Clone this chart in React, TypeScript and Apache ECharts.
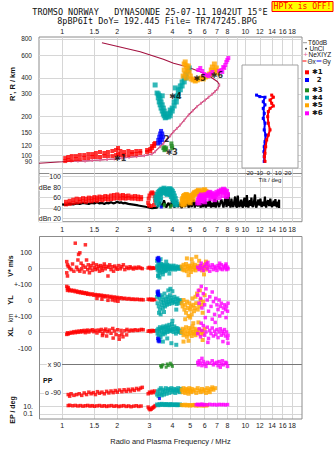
import React, { useEffect, useRef } from 'react';
import * as echarts from 'echarts';

// ---------- axis constants ----------
const F_MIN = 0.748;
const F_MAX = 20.4;
const FREQ_GRID = [1, 1.5, 2, 3, 4, 5, 6, 7, 8, 9, 10, 12, 14, 16, 18];
const FREQ_LABELS_TOP = [1, 1.5, 2, 3, 4, 5, 6, 7, 8, 10, 12, 14, 16, 18];
const FREQ_LABELS_MID = [1, 1.5, 2, 3, 4, 5, 6, 7, 8, 9, 10, 12, 14, 16, 18];
const R_TICKS = [80, 90, 100, 120, 150, 200, 300, 400, 600, 800];
const R_MIN = 72.5;
const R_MAX = 829;
const TILT_TICKS = [-20, -10, 0, 10, 20];
const DB_TICKS = [20, 40, 60, 80, 100];
const PP_TICKS = [90, -90];
const EP_TICKS = [10, 0.1];

// ---------- top panel: virtual height R (km) vs frequency (MHz) ----------
const PROFILE = [[0.748, 87], [1.0, 89.5], [1.11, 90.7], [1.336, 90.7], [1.61, 92.3], [1.93, 94], [2.32, 96.8], [2.81, 99.6], [3.09, 102.7], [3.22, 107], [3.43, 117], [3.73, 132], [4.06, 153], [4.41, 172], [4.9, 206], [5.44, 239], [6.04, 269], [6.58, 298], [7.06, 328], [7.23, 352], [7.06, 373], [6.44, 408], [5.67, 446], [4.8, 488], [4.06, 519], [3.57, 557], [2.67, 638], [1.65, 748]];
const NEXIYZ = [[1.12, 90.7], [1.22, 90.7], [1.336, 90.7], [1.46, 91.5], [1.61, 92.3], [1.76, 93], [1.93, 94], [2.12, 95.5], [2.32, 96.8], [2.55, 98], [2.81, 99.6], [3.09, 102.7], [3.22, 107], [3.43, 117], [3.58, 124], [3.73, 132], [3.9, 142], [4.06, 153], [4.23, 162], [4.41, 172], [4.65, 188], [4.9, 206], [5.16, 222], [5.44, 239], [5.73, 254], [6.04, 269], [6.3, 283], [6.58, 298], [6.82, 312], [7.06, 328], [7.23, 352]];
const R_RED = [[1.04, 95.5], [1.04, 90.5], [1.08, 97.3], [1.08, 92.2], [1.13, 99], [1.13, 92.2], [1.19, 99], [1.19, 93.8], [1.25, 100.8], [1.25, 93.8], [1.32, 100.8], [1.32, 95.5], [1.39, 102.6], [1.39, 95.5], [1.46, 102.6], [1.46, 97.3], [1.53, 104.5], [1.53, 97.3], [1.61, 106.4], [1.61, 97.3], [1.7, 104.5], [1.7, 99], [1.78, 106.4], [1.78, 99], [1.88, 108.3], [1.88, 99], [1.97, 110.3], [1.97, 100.8], [2.02, 114.3], [2.02, 102.6], [2.08, 108.3], [2.08, 100.8], [2.18, 106.4], [2.18, 100.8], [2.3, 108.3], [2.3, 100.8], [2.41, 106.4], [2.41, 102.6], [2.54, 108.3], [2.54, 102.6], [2.67, 108.3], [2.67, 104.5], [2.91, 110.3], [2.91, 106.4], [3.03, 112.3], [3.03, 108.3], [3.1, 118.5], [3.1, 114.3], [3.18, 122.8], [3.18, 118.5], [3.22, 125]];
const R_BLUE = [[3.47, 155], [3.43, 148], [3.52, 148], [3.39, 140], [3.47, 140], [3.56, 140], [3.35, 132], [3.43, 132], [3.52, 132], [3.43, 126], [3.35, 124]];
const R_GREEN = [[3.57, 114], [3.62, 116], [3.66, 112], [3.7, 114], [3.62, 110], [3.95, 124], [3.97, 118], [3.99, 114]];
const R_TEAL = [[3.3, 305], [3.35, 300], [3.39, 290], [3.35, 280], [3.43, 274], [3.39, 260], [3.47, 260], [3.43, 247], [3.52, 247], [3.47, 233], [3.57, 233], [3.52, 221], [3.61, 221], [3.57, 210], [3.66, 210], [3.61, 203], [3.7, 199], [3.66, 196], [3.8, 199], [3.89, 203], [3.8, 210], [3.89, 214], [3.89, 225], [3.99, 221], [3.99, 233], [4.09, 242], [4.09, 260], [4.2, 260], [4.2, 280], [4.25, 290], [4.31, 300], [4.31, 323], [4.42, 323], [4.42, 346], [4.52, 346], [4.52, 372], [4.64, 372], [4.64, 399], [4.76, 399], [4.76, 428], [4.88, 452], [4.94, 477], [3.22, 352], [3.52, 290], [4.15, 334]];
const R_ORANGE = [[4.64, 512], [4.7, 531], [4.76, 494], [4.64, 460], [4.7, 428], [4.82, 460], [4.88, 494], [4.94, 444], [5.01, 413], [5.07, 392], [5.2, 385], [5.33, 378], [5.47, 385], [5.61, 392], [5.75, 399], [5.9, 392], [6.05, 406], [6.2, 413], [6.36, 428], [6.52, 460], [6.61, 485], [6.69, 444], [6.78, 512], [6.86, 460], [6.95, 477], [7.04, 436], [4.76, 399], [4.58, 413]];
const R_MAGENTA = [[5.54, 460], [5.68, 477], [5.82, 452], [5.97, 428], [6.12, 421], [6.28, 413], [6.44, 428], [6.61, 444], [7.21, 452], [7.39, 460], [7.58, 485], [7.78, 503], [7.88, 531], [7.98, 550], [8.08, 570], [7.68, 477], [7.49, 444]];
const TRACE_TAGS = [[2.075, 95, '✱1'], [3.73, 132, '2'], [3.97, 105.6, '✱3'], [4.15, 286, '✱4'], [5.63, 396, '✱5'], [7.0, 415, '✱6']];

// ---------- tilt inset: tilt (deg) vs R ----------
const TILT_Y = [[-12.3, 294], [-8.9, 286], [-3.6, 283], [-5.4, 261], [-3.6, 247], [-5.4, 232], [-4.4, 212], [-5.4, 194], [-3.6, 178], [-4.4, 158], [-2.9, 144], [-3.6, 128], [-4.4, 117], [-4.7, 107], [-4.4, 98], [-4.4, 90]];
const TILT_X = [[3.3, 294], [5, 283], [1.6, 269], [3.3, 254], [5, 242], [1.6, 232], [-0.2, 219], [-0.8, 200], [-0.2, 178], [1.6, 158], [-0.2, 144], [-1.9, 132], [-2.9, 117], [-3.6, 104], [-4.2, 98], [-3.6, 90]];

// ---------- amplitude panel (dB) ----------
const DB_BLACK = [[1.0, 47], [1.05, 46], [1.1, 48], [1.15, 47], [1.2, 49], [1.25, 48], [1.3, 50], [1.35, 49], [1.4, 48], [1.45, 50], [1.5, 49], [1.55, 51], [1.6, 49], [1.65, 50], [1.7, 48], [1.75, 50], [1.8, 49], [1.85, 51], [1.9, 49], [1.95, 50], [2.0, 52], [2.05, 50], [2.1, 51], [2.15, 49], [2.2, 50], [2.3, 48], [2.4, 47], [2.5, 46], [2.6, 45], [2.7, 44], [2.8, 43], [2.9, 42], [3.0, 41], [3.1, 40], [3.3, 41], [3.4, 52], [3.5, 42], [3.6, 55], [3.7, 41], [3.8, 50], [3.9, 42], [4.0, 56], [4.1, 41], [4.2, 53], [4.3, 42], [4.4, 48], [4.5, 40], [4.6, 52], [4.7, 42], [4.8, 55], [4.9, 41], [5.0, 50], [5.1, 42], [5.2, 57], [5.3, 41], [5.4, 52], [5.5, 43], [5.6, 55], [5.7, 41], [5.8, 49], [5.9, 42], [6.0, 58], [6.1, 41], [6.2, 52], [6.3, 43], [6.4, 56], [6.5, 41], [6.6, 50], [6.7, 42], [6.8, 60], [6.9, 41], [7.0, 54], [7.2, 42], [7.4, 57], [7.6, 41], [7.8, 62], [7.9, 42], [8.0, 55], [8.1, 68], [8.15, 44], [8.2, 50], [8.3, 41], [8.4, 58], [8.5, 45], [8.6, 42], [8.7, 52], [8.8, 62], [8.9, 44], [9.0, 41], [9.1, 64], [9.2, 46], [9.3, 42], [9.4, 50], [9.5, 56], [9.6, 44], [9.7, 41], [9.8, 52], [9.9, 60], [10.0, 45], [10.1, 42], [10.2, 65], [10.3, 47], [10.4, 41], [10.5, 50], [10.6, 55], [10.7, 44], [10.8, 60], [10.9, 45], [11.0, 42], [11.15, 52], [11.3, 66], [11.4, 44], [11.5, 41], [11.65, 50], [11.8, 56], [11.95, 45], [12.1, 58], [12.2, 46], [12.3, 42], [12.4, 48], [12.5, 52], [12.65, 44], [12.8, 62], [12.9, 45], [13.0, 41], [13.15, 50], [13.3, 55], [13.5, 44], [13.7, 58], [13.85, 46], [14.0, 42], [14.15, 49], [14.3, 54], [14.45, 44], [14.6, 57], [14.75, 45], [14.9, 42], [15.0, 48], [15.1, 52], [15.2, 44], [15.3, 56], [15.3, 40]];
const DB_RED = [[1.05, 52], [1.05, 47], [1.1, 54], [1.1, 48], [1.15, 56], [1.15, 50], [1.2, 58], [1.2, 51], [1.25, 57], [1.25, 52], [1.3, 59], [1.3, 53], [1.35, 58], [1.35, 52], [1.4, 60], [1.4, 54], [1.45, 59], [1.45, 53], [1.5, 61], [1.5, 55], [1.55, 60], [1.55, 54], [1.6, 62], [1.6, 56], [1.66, 61], [1.66, 55], [1.72, 63], [1.72, 57], [1.78, 62], [1.78, 56], [1.85, 64], [1.85, 57], [1.92, 65], [1.92, 58], [2.0, 66], [2.0, 59], [2.08, 64], [2.08, 58], [2.15, 65], [2.15, 59], [2.22, 63], [2.22, 58], [2.3, 64], [2.3, 59], [2.4, 62], [2.4, 58], [2.5, 63], [2.5, 58], [2.6, 62], [2.6, 57], [2.7, 61], [2.7, 57], [2.95, 50], [2.97, 58], [3.0, 64], [3.05, 68], [3.1, 70], [3.16, 68], [3.2, 62], [3.22, 54], [3.18, 46], [3.05, 44], [2.98, 45]];
const DB_TEAL = [[3.25, 60], [3.28, 55], [3.3, 66], [3.3, 50], [3.35, 70], [3.35, 62], [3.38, 46], [3.4, 72], [3.4, 66], [3.45, 74], [3.45, 68], [3.45, 60], [3.5, 76], [3.5, 70], [3.55, 75], [3.55, 70], [3.6, 78], [3.6, 72], [3.65, 76], [3.65, 70], [3.7, 74], [3.7, 68], [3.75, 72], [3.75, 66], [3.8, 75], [3.8, 68], [3.85, 77], [3.85, 70], [3.9, 76], [3.9, 66], [3.95, 74], [3.95, 62], [4.0, 72], [4.0, 58], [4.05, 68], [4.05, 54], [4.1, 63], [4.1, 50], [4.15, 58], [4.15, 46], [4.2, 52], [4.25, 47], [3.32, 58], [3.42, 55]];
const DB_ORANGE = [[4.5, 48], [4.52, 54], [4.55, 58], [4.6, 62], [4.6, 50], [4.65, 64], [4.7, 63], [4.7, 54], [4.75, 66], [4.8, 65], [4.8, 56], [4.85, 62], [4.9, 64], [4.9, 52], [4.95, 60], [5.0, 58], [5.0, 50], [5.05, 62], [5.1, 60], [5.15, 64], [5.2, 66], [5.2, 56], [5.25, 68], [5.3, 70], [5.35, 66], [5.4, 70], [5.45, 72], [5.5, 68], [5.55, 74], [5.6, 72], [5.65, 70], [5.7, 68], [5.8, 70], [5.9, 74], [6.0, 75], [6.05, 70], [6.1, 72], [6.2, 66], [6.25, 70], [4.58, 46], [4.68, 48]];
const DB_MAGENTA = [[5.5, 50], [5.55, 55], [5.6, 58], [5.65, 62], [5.7, 60], [5.75, 65], [5.8, 63], [5.85, 58], [5.9, 56], [5.95, 62], [6.0, 60], [6.1, 66], [6.2, 64], [6.3, 68], [6.4, 70], [6.5, 66], [6.55, 62], [6.6, 68], [6.7, 64], [6.8, 62], [6.9, 66], [7.0, 70], [7.1, 68], [7.2, 72], [7.3, 70], [7.4, 74], [7.5, 72], [7.6, 76], [7.7, 74], [7.8, 70], [7.9, 72], [8.0, 66], [5.6, 50], [5.8, 54], [6.0, 52], [6.4, 58], [6.8, 56], [7.2, 60], [7.6, 64], [7.9, 62]];
const DB_GREEN = [[3.6, 44], [3.62, 47], [3.9, 42], [3.95, 45]];
const DB_BLUE = [[3.48, 42]];

// ---------- V* (m/s) ----------
const V_RED = [[1.06, 40], [1.07, 20], [1.06, -30], [1.07, -50], [1.08, 10], [1.1, 0], [1.12, -10], [1.14, 25], [1.16, -20], [1.18, 155], [1.2, 5], [1.22, 50], [1.22, -10], [1.23, 85], [1.25, 95], [1.25, -20], [1.27, 30], [1.28, -5], [1.3, 15], [1.32, -25], [1.34, 145], [1.34, 5], [1.36, 50], [1.38, -10], [1.39, 20], [1.41, -30], [1.42, 0], [1.44, 15], [1.46, -15], [1.48, 30], [1.5, 5], [1.52, -10], [1.54, 20], [1.56, -5], [1.58, 10], [1.6, -20], [1.62, 15], [1.64, 0], [1.66, -15], [1.68, 10], [1.7, 25], [1.72, -5], [1.75, 10], [1.78, -50], [1.8, 5], [1.82, 20], [1.85, -10], [1.88, 8], [1.91, -20], [1.94, 12], [1.97, 0], [2.0, -8], [2.04, 15], [2.08, -5], [2.12, 8], [2.16, 20], [2.2, -10], [2.25, 5], [2.3, -3], [2.35, 8], [2.4, 0], [2.45, -6], [2.5, 4], [2.56, -2], [2.62, 6], [2.68, 0], [2.74, -4], [2.95, 0], [3.0, 4], [3.05, -4], [3.1, 2], [3.15, -2], [3.2, 0]];
const V_TEAL = [[3.3, 10], [3.32, -10], [3.35, 20], [3.36, -20], [3.38, 0], [3.4, 30], [3.42, -30], [3.44, 10], [3.46, -15], [3.48, 25], [3.5, -5], [3.52, 15], [3.54, -25], [3.56, 5], [3.58, 20], [3.6, -10], [3.62, 10], [3.64, -20], [3.66, 0], [3.68, 15], [3.7, -15], [3.72, 5], [3.75, 20], [3.78, -10], [3.8, 10], [3.83, -5], [3.86, 15], [3.89, 0], [3.92, -10], [3.95, 10], [3.98, 5], [4.02, -5], [4.06, 15], [4.1, 0], [4.14, -10], [4.18, 10], [4.22, 0], [4.26, -5], [4.3, 8], [4.35, -2], [4.4, 5], [4.45, -5], [3.34, -50], [3.4, -60], [3.45, 55], [3.55, -40], [3.7, 40], [3.85, -35], [3.3, 45], [3.36, -45]];
const V_BLUE = [[3.33, 55], [3.36, 65], [3.38, 50], [3.35, 45], [3.31, 60]];
const V_ORANGE = [[4.5, 10], [4.55, -10], [4.6, 20], [4.65, -15], [4.7, 5], [4.75, 25], [4.8, -20], [4.85, 10], [4.9, -5], [4.95, 15], [5.0, 0], [5.05, -25], [5.1, 10], [5.15, 30], [5.2, -10], [5.25, 5], [5.3, 20], [5.35, -15], [5.4, 0], [5.5, 15], [5.6, -5], [5.7, 10], [5.8, -15], [5.9, 5], [6.0, 20], [6.1, -10], [6.2, 5], [4.8, 60], [5.1, 55], [5.4, 70], [4.9, -45], [5.6, 45], [5.95, -40], [6.1, 40]];
const V_MAGENTA = [[5.5, 5], [5.6, -10], [5.7, 15], [5.8, 0], [5.9, -15], [6.0, 10], [6.1, 25], [6.2, -5], [6.3, 15], [6.4, -20], [6.5, 5], [6.6, 20], [6.7, -10], [6.8, 10], [6.9, 0], [7.0, -15], [7.1, 15], [7.2, 5], [7.3, -5], [7.4, 20], [7.5, -10], [7.6, 10], [7.7, 0], [7.8, 15], [7.9, -10], [8.0, 5], [8.05, -5], [5.75, 30], [6.25, 35], [7.25, 30], [7.85, 25]];

// ---------- YL (km) ----------
const YL_RED = [[1.06, 85], [1.07, 72], [1.08, 78], [1.07, 60], [1.09, 66], [1.1, 58], [1.12, 62], [1.14, 56], [1.16, 60], [1.18, 52], [1.2, 56], [1.22, 48], [1.24, 52], [1.26, 45], [1.28, 50], [1.3, 42], [1.32, 46], [1.34, 40], [1.36, 44], [1.38, 36], [1.4, 40], [1.43, 34], [1.46, 38], [1.49, 30], [1.52, 34], [1.55, 28], [1.58, 32], [1.61, 26], [1.64, 30], [1.67, 22], [1.7, 27], [1.73, 20], [1.77, 25], [1.81, 18], [1.85, 22], [1.89, 15], [1.93, 19], [1.97, 12], [2.01, 16], [2.05, 10], [2.1, 14], [2.15, 8], [2.2, 11], [2.26, 6], [2.32, 9], [2.38, 4], [2.44, 6], [2.5, 3], [2.57, 5], [2.64, 2], [2.71, 3], [2.77, 1], [1.65, 5], [1.78, -2], [1.88, 0], [1.95, -5], [2.02, -8], [1.55, 10], [2.95, 5], [3.0, 2], [3.05, 6], [3.1, 0], [3.15, 4], [3.2, 2]];
const YL_TEAL = [[3.3, 20], [3.32, -20], [3.35, 40], [3.37, -40], [3.4, 10], [3.42, -60], [3.45, 30], [3.47, -10], [3.5, -30], [3.52, 20], [3.55, -50], [3.57, 0], [3.6, -20], [3.62, 40], [3.65, -40], [3.68, 10], [3.7, -10], [3.73, -30], [3.76, 20], [3.79, -15], [3.82, 5], [3.85, -25], [3.88, 30], [3.91, -5], [3.95, 15], [3.98, -20], [4.02, 0], [4.06, -10], [4.1, 20], [4.14, -15], [4.18, 5], [4.22, -25], [4.26, 10], [4.3, -5], [4.35, -20], [4.4, 0], [4.45, -10], [3.38, -80], [3.45, -90], [3.6, -75], [3.8, 60], [3.9, 70], [4.0, 55], [4.2, -60]];
const YL_BLUE = [[3.31, 50], [3.33, 40], [3.35, 55], [3.37, 30], [3.34, 35]];
const YL_ORANGE = [[4.5, -20], [4.55, -40], [4.6, 0], [4.65, -60], [4.7, -30], [4.75, -80], [4.8, -10], [4.85, -50], [4.9, -100], [4.95, -20], [5.0, -60], [5.05, -40], [5.1, -90], [5.15, 10], [5.2, -30], [5.25, -70], [5.3, -50], [5.35, 20], [5.4, -20], [5.5, -60], [5.6, -40], [5.7, 0], [5.8, -30], [5.9, -10], [6.0, 30], [4.7, -120], [5.0, -110], [5.45, 40], [5.65, 60], [5.85, -80]];
const YL_MAGENTA = [[5.5, 30], [5.55, 60], [5.6, -20], [5.7, 10], [5.8, -50], [5.9, 40], [6.0, -30], [6.1, 70], [6.2, 0], [6.3, -70], [6.4, 20], [6.5, -40], [6.6, 50], [6.7, -10], [6.8, -90], [6.9, 10], [7.0, -30], [7.1, -60], [7.2, 0], [7.3, -40], [7.4, -20], [7.5, -80], [7.6, -50], [7.7, -30], [7.8, -60], [7.9, -40], [8.0, -70], [8.05, -20], [5.75, 85], [6.05, -110], [6.6, -120], [7.25, -100], [7.85, -110]];

// ---------- XL (km) ----------
const XL_RED = [[1.06, -15], [1.07, -5], [1.08, -12], [1.1, -8], [1.12, -2], [1.14, -6], [1.16, 2], [1.18, -4], [1.2, 4], [1.22, -2], [1.24, 6], [1.26, 0], [1.28, 8], [1.3, 2], [1.32, 10], [1.34, -4], [1.36, 6], [1.38, 12], [1.4, 0], [1.43, 8], [1.46, 14], [1.49, 2], [1.52, 10], [1.55, -6], [1.58, 12], [1.61, 4], [1.64, 16], [1.67, -10], [1.7, 8], [1.73, 18], [1.77, 2], [1.81, 12], [1.85, -8], [1.89, 22], [1.93, 6], [1.97, -16], [2.01, 14], [2.05, -24], [2.1, 10], [2.15, -30], [2.2, 8], [2.26, 16], [2.32, 6], [2.38, 12], [2.44, 8], [2.5, 14], [2.57, 10], [2.64, 12], [2.71, 16], [2.77, 14], [1.75, -25], [1.9, -38], [2.05, -45], [2.12, -12], [1.66, -22], [2.25, -18], [2.95, 5], [3.0, 8], [3.05, 2], [3.1, 10], [3.15, 6], [3.2, 8]];
const XL_TEAL = [[3.3, 10], [3.32, -10], [3.35, 20], [3.37, -20], [3.4, 5], [3.42, 30], [3.45, -30], [3.47, 15], [3.5, -5], [3.52, 25], [3.55, -15], [3.57, 35], [3.6, 0], [3.62, 20], [3.65, -10], [3.68, 30], [3.7, 10], [3.73, 40], [3.76, 0], [3.79, 25], [3.82, 15], [3.85, 45], [3.88, 5], [3.91, 30], [3.95, 10], [3.98, 50], [4.02, 20], [4.06, 0], [4.1, 35], [4.14, 15], [4.18, -10], [4.22, 25], [4.26, 5], [4.3, 20], [4.35, 0], [4.4, 10], [4.45, -5], [3.4, -50], [3.55, -60], [3.75, -40], [3.95, -70], [4.2, -80], [4.0, 70]];
const XL_BLUE = [[3.33, -40], [3.35, -55], [3.37, -45], [3.39, -60]];
const XL_ORANGE = [[4.5, 0], [4.55, 20], [4.6, -20], [4.65, 10], [4.7, -10], [4.75, 30], [4.8, -30], [4.85, 5], [4.9, -15], [4.95, 25], [5.0, -5], [5.05, 15], [5.1, -25], [5.15, 35], [5.2, 0], [5.25, -10], [5.3, 20], [5.35, -20], [5.4, 10], [5.5, -5], [5.6, 15], [5.7, -15], [5.8, 5], [5.9, -10], [6.0, 20], [4.6, -60], [4.9, -55], [5.2, 55], [5.55, 60], [5.85, -50]];
const XL_MAGENTA = [[5.5, -10], [5.6, 20], [5.7, -30], [5.8, 10], [5.9, 40], [6.0, -20], [6.1, 0], [6.2, 30], [6.3, -40], [6.4, 10], [6.5, -10], [6.6, 25], [6.7, -25], [6.8, 5], [6.9, -15], [7.0, 15], [7.1, -35], [7.2, 0], [7.3, 20], [7.4, -20], [7.5, 5], [7.6, -10], [7.7, 15], [7.8, -25], [7.9, 0], [8.0, -40], [8.05, -20], [5.75, 55], [6.25, -65], [6.85, 60], [7.55, -60], [8.05, -70]];

// ---------- PP (deg) ----------
const PP_RED = [[1.08, -100], [1.1, -110], [1.12, -95], [1.16, -105], [1.2, -100], [1.24, -95], [1.28, -105], [1.32, -90], [1.36, -100], [1.4, -85], [1.44, -95], [1.48, -88], [1.52, -100], [1.56, -82], [1.6, -92], [1.65, -85], [1.7, -95], [1.75, -80], [1.8, -90], [1.85, -78], [1.9, -88], [1.95, -75], [2.0, -85], [2.06, -72], [2.12, -82], [2.18, -70], [2.24, -80], [2.3, -68], [2.36, -78], [2.42, -66], [2.48, -74], [2.55, -62], [2.62, -70], [2.68, -60], [2.74, -55], [2.95, -95], [3.0, -85], [3.05, -90], [3.1, -80], [3.15, -88], [3.2, -78]];
const PP_TEAL = [[3.3, -100], [3.33, -80], [3.36, -110], [3.4, -70], [3.43, -95], [3.46, -60], [3.5, -105], [3.53, -85], [3.56, -70], [3.6, -100], [3.64, -80], [3.68, -60], [3.72, -95], [3.76, -75], [3.8, -65], [3.85, -90], [3.9, -70], [3.95, -60], [4.0, -85], [4.05, -75], [4.1, -65], [4.15, -90], [4.2, -70], [4.25, -80], [4.3, -60], [4.35, -75], [4.4, -85], [4.45, -65]];
const PP_ORANGE = [[4.5, -70], [4.55, -85], [4.6, -60], [4.65, -75], [4.7, -90], [4.75, -65], [4.8, -80], [4.85, -70], [4.9, -95], [4.95, -60], [5.0, -75], [5.05, -85], [5.1, -65], [5.2, -80], [5.3, -70], [5.4, -90], [5.5, -60], [5.6, -75], [5.7, -85], [5.8, -65], [5.9, -80], [6.0, -70], [6.1, -90], [6.2, -60], [6.3, -75], [6.4, -85], [6.5, -65], [6.6, -55], [6.7, -70], [6.85, -60]];
const PP_GREEN = [[3.45, 80], [3.5, 75], [3.55, 85], [3.7, 70], [3.75, 90], [3.8, 80], [3.9, 95], [3.95, 85], [4.0, 75], [3.48, 70]];
const PP_MAGENTA = [[5.5, 100], [5.55, 85], [5.6, 110], [5.7, 95], [5.8, 80], [5.9, 105], [6.0, 90], [6.1, 75], [6.2, 100], [6.4, 95], [6.6, 110], [6.7, 85], [6.8, 95], [7.0, 100], [7.1, 80], [7.2, 105], [7.4, 90], [7.5, 110], [7.6, 85], [7.8, 100], [7.9, 95], [8.0, 75], [5.8, 125], [7.3, 70]];
const PP_BLUE = [[3.4, -125]];

// ---------- EP (deg) ----------
const EP_RED = [[1.08, 20], [1.1, 25], [1.14, 18], [1.18, 22], [1.22, 16], [1.26, 20], [1.3, 14], [1.34, 18], [1.38, 22], [1.42, 15], [1.46, 19], [1.5, 13], [1.55, 17], [1.6, 21], [1.65, 14], [1.7, 18], [1.75, 12], [1.8, 16], [1.86, 20], [1.92, 13], [1.98, 17], [2.04, 11], [2.1, 15], [2.17, 19], [2.24, 12], [2.31, 16], [2.38, 10], [2.46, 14], [2.54, 18], [2.62, 12], [2.7, 15], [2.95, 8], [2.98, 3], [3.02, 1.5], [3.06, 2], [3.1, 4], [3.14, 6], [3.18, 10], [3.22, 20]];
const EP_TEAL = [[3.3, 40], [3.35, 25], [3.4, 50], [3.45, 30], [3.5, 60], [3.55, 35], [3.6, 45], [3.65, 28], [3.7, 55], [3.75, 32], [3.8, 40], [3.85, 26], [3.9, 50], [3.95, 35], [4.0, 42], [4.05, 28], [4.1, 38], [4.15, 30], [4.2, 45], [4.25, 25], [4.3, 35], [4.35, 30], [4.4, 40], [4.45, 28]];
const EP_ORANGE = [[4.5, 30], [4.6, 25], [4.7, 35], [4.8, 22], [4.9, 30], [5.0, 20], [5.1, 28], [5.2, 24], [5.3, 32], [5.4, 20], [5.5, 26], [5.6, 22], [5.7, 30], [5.8, 24], [5.9, 20], [6.0, 28], [6.1, 22], [6.2, 26]];
const EP_MAGENTA = [[5.4, 35], [5.5, 45], [5.6, 30], [5.7, 40], [5.8, 50], [5.9, 28], [6.0, 38], [6.2, 32], [6.4, 45], [6.6, 35], [6.8, 40], [7.0, 30], [7.2, 42], [7.4, 36], [7.6, 40], [7.8, 32], [8.0, 38]];

// ---------- styling ----------
const C_RED = '#ff0000';
const C_BLUE = '#0000ff';
const C_GREEN = '#1f8a1f';
const C_TEAL = '#00a6a6';
const C_ORANGE = '#ffa500';
const C_MAGENTA = '#ff00ff';
const GRID_C = '#d6d6d6';
const FRAME_C = '#8c8c8c';
const LBL = { fontSize: 7, color: '#222', fontFamily: 'Liberation Sans, Arial, sans-serif' };

const L = Math.log10;
const fLog = (v: number) => String(Math.round(Math.pow(10, v) * 10) / 10);

function buildOption() {
  const fr = (a: number[][]) => a.map(([f, r]) => [L(f), L(r)]);
  const fv = (a: number[][]) => a.map(([f, v]) => [L(f), v]);
  const fe = (a: number[][]) => a.map(([f, e]) => [L(f), L(e)]);
  const tr = (a: number[][]) => a.map(([t, r]) => [t, L(r)]);

  const sc = (data: number[][], idx: number, color: string, size = 3, z = 3) => ({
    type: 'scatter', xAxisIndex: idx, yAxisIndex: idx, data, symbol: 'rect', symbolSize: size,
    itemStyle: { color }, silent: true, clip: false, z,
  });

  const freqAxis = (gridIndex: number, labels: number[] | null, position: string, margin = 3, extra: any = {}) => ({
    type: 'value', gridIndex, min: L(F_MIN), max: L(F_MAX), position,
    axisLine: { show: false },
    axisTick: { show: false, customValues: FREQ_GRID.map(L) },
    axisLabel: labels
      ? { show: true, customValues: labels.map(L), formatter: fLog, margin, hideOverlap: false, ...LBL }
      : { show: false },
    splitLine: { show: true, lineStyle: { color: GRID_C, width: 1 } },
    ...extra,
  });

  const linY = (gridIndex: number, min: number, max: number, fmt: (v: number) => string) => ({
    type: 'value', gridIndex, min, max, interval: 100,
    axisLine: { show: false }, axisTick: { show: false },
    axisLabel: { show: true, formatter: fmt, margin: 7, ...LBL },
    splitLine: { show: true, lineStyle: { color: GRID_C, width: 1 } },
  });

  const xAxis = [
    freqAxis(0, FREQ_LABELS_TOP, 'top', 2),
    {
      type: 'value', gridIndex: 1, min: -27.3, max: 30.4, position: 'bottom',
      axisLine: { show: false },
      axisTick: { show: false, customValues: TILT_TICKS },
      axisLabel: { show: true, customValues: TILT_TICKS, margin: 2, hideOverlap: false, ...LBL, fontSize: 6 },
      splitLine: { show: true, lineStyle: { color: GRID_C } },
      name: 'Tilt / deg', nameLocation: 'middle', nameGap: 9,
      nameTextStyle: { ...LBL, fontSize: 6 },
    },
    freqAxis(2, FREQ_LABELS_MID, 'bottom', 4),
    freqAxis(3, null, 'bottom'),
    freqAxis(4, null, 'bottom'),
    freqAxis(5, null, 'bottom'),
    freqAxis(6, null, 'bottom'),
    freqAxis(7, FREQ_LABELS_TOP, 'bottom', 3, {
      name: 'Radio and Plasma Frequency / MHz', nameLocation: 'middle', nameGap: 18,
      nameTextStyle: { ...LBL, fontSize: 7.5 },
    }),
  ];

  const yAxis = [
    {
      type: 'value', gridIndex: 0, min: L(R_MIN), max: L(R_MAX),
      axisLine: { show: false },
      axisTick: { show: false, customValues: R_TICKS.map(L) },
      axisLabel: { show: true, customValues: R_TICKS.map(L), formatter: (v: number) => String(Math.round(Math.pow(10, v))), margin: 7, hideOverlap: false, ...LBL, fontSize: 6.5 },
      splitLine: { show: true, lineStyle: { color: GRID_C } },
    },
    {
      type: 'value', gridIndex: 1, min: L(80), max: L(503),
      axisLine: { show: false },
      axisTick: { show: false, customValues: R_TICKS.filter((r) => r <= 500).map(L) },
      axisLabel: { show: false },
      splitLine: { show: true, lineStyle: { color: GRID_C } },
    },
    {
      type: 'value', gridIndex: 2, min: 14, max: 106,
      axisLine: { show: false },
      axisTick: { show: false, customValues: DB_TICKS },
      axisLabel: {
        show: true, customValues: DB_TICKS, inside: true, align: 'right', margin: 23,
        formatter: (v: number) => (v === 80 ? 'dBe 80' : v === 20 ? 'dBn 20' : String(v)),
        backgroundColor: '#fff', padding: [0, 1, 0, 0], ...LBL,
      },
      splitLine: { show: true, lineStyle: { color: GRID_C } },
    },
    linY(3, -100, 200, (v) => (v === 100 ? '100' : v === 0 ? '0' : v === -100 ? '+-100' : '')),
    linY(4, -100, 100, (v) => (v === 0 ? '0' : '')),
    linY(5, -200, 100, (v) => (v === 0 ? '0' : v === -100 ? '-100' : v === 100 ? '+-100' : '')),
    {
      type: 'value', gridIndex: 6, min: -140, max: 90,
      axisLine: { show: false },
      axisTick: { show: false, customValues: PP_TICKS },
      axisLabel: {
        show: true, customValues: PP_TICKS, inside: true, align: 'right', margin: 23,
        formatter: (v: number) => (v === 90 ? 'x 90' : 'o -90'),
        backgroundColor: '#fff', padding: [0, 1, 0, 1], ...LBL,
      },
      splitLine: { show: true, lineStyle: { color: GRID_C } },
    },
    {
      type: 'value', gridIndex: 7, min: -2.37, max: 2.56,
      axisLine: { show: false },
      axisTick: { show: false, customValues: EP_TICKS.map(L) },
      axisLabel: { show: true, customValues: EP_TICKS.map(L), formatter: (v: number) => (v > 0 ? '10.' : '0.1'), margin: 6, hideOverlap: false, ...LBL },
      splitLine: { show: true, lineStyle: { color: GRID_C } },
    },
  ];

  const series: any[] = [
    // top panel
    { type: 'line', xAxisIndex: 0, yAxisIndex: 0, data: fr(PROFILE), showSymbol: false, lineStyle: { color: '#a3103f', width: 1.1 }, silent: true, z: 2 },
    { type: 'line', xAxisIndex: 0, yAxisIndex: 0, data: fr(NEXIYZ), symbol: 'rect', symbolSize: [1.5, 3], showSymbol: true, itemStyle: { color: '#e2689a' }, lineStyle: { color: '#e2689a', width: 0.9 }, silent: true, z: 3 },
    sc(fr(R_RED), 0, C_RED, 4),
    sc(fr(R_BLUE), 0, C_BLUE, 4),
    sc(fr(R_GREEN), 0, C_GREEN, 4),
    sc(fr(R_TEAL), 0, C_TEAL, 5),
    sc(fr(R_ORANGE), 0, C_ORANGE, 5),
    sc(fr(R_MAGENTA), 0, C_MAGENTA, 4),
    {
      type: 'scatter', xAxisIndex: 0, yAxisIndex: 0, symbolSize: 0, silent: true, z: 6,
      data: TRACE_TAGS.map(([f, r, t]) => ({ value: [L(f as number), L(r as number)], name: t })),
      label: { show: true, position: 'inside', formatter: '{b}', color: '#000', fontSize: 8, fontWeight: 'bold', fontFamily: 'DejaVu Sans, sans-serif' },
    },
    // tilt inset
    { type: 'line', xAxisIndex: 1, yAxisIndex: 1, data: tr(TILT_Y), symbol: 'rect', symbolSize: 3, itemStyle: { color: C_BLUE }, lineStyle: { color: C_BLUE, width: 2 }, silent: true, z: 4 },
    { type: 'line', xAxisIndex: 1, yAxisIndex: 1, data: tr(TILT_X), symbol: 'rect', symbolSize: 3, itemStyle: { color: C_RED }, lineStyle: { color: C_RED, width: 2 }, silent: true, z: 5 },
    // amplitude
    { type: 'line', xAxisIndex: 2, yAxisIndex: 2, data: fv(DB_BLACK), showSymbol: false, lineStyle: { color: '#000', width: 2.2 }, silent: true, z: 2 },
    sc(fv(DB_RED), 2, C_RED, 4),
    sc(fv(DB_TEAL), 2, C_TEAL, 5),
    sc(fv(DB_ORANGE), 2, C_ORANGE, 5),
    sc(fv(DB_MAGENTA), 2, C_MAGENTA, 5),
    sc(fv(DB_GREEN), 2, C_GREEN, 3),
    sc(fv(DB_BLUE), 2, C_BLUE, 3),
    // V*
    sc(fv(V_RED), 3, C_RED, 3.5),
    sc(fv(V_TEAL), 3, C_TEAL, 4),
    sc(fv(V_ORANGE), 3, C_ORANGE, 4),
    sc(fv(V_MAGENTA), 3, C_MAGENTA, 3.5),
    sc(fv(V_BLUE), 3, C_BLUE, 3.5),
    // YL
    sc(fv(YL_RED), 4, C_RED, 3.5),
    sc(fv(YL_TEAL), 4, C_TEAL, 4),
    sc(fv(YL_ORANGE), 4, C_ORANGE, 4),
    sc(fv(YL_MAGENTA), 4, C_MAGENTA, 3.5),
    sc(fv(YL_BLUE), 4, C_BLUE, 3.5),
    // XL
    sc(fv(XL_RED), 5, C_RED, 3.5),
    sc(fv(XL_TEAL), 5, C_TEAL, 4),
    sc(fv(XL_ORANGE), 5, C_ORANGE, 4),
    sc(fv(XL_MAGENTA), 5, C_MAGENTA, 3.5),
    sc(fv(XL_BLUE), 5, C_BLUE, 3.5),
    // PP
    sc(fv(PP_RED), 6, C_RED, 3.5),
    sc(fv(PP_TEAL), 6, C_TEAL, 4),
    sc(fv(PP_ORANGE), 6, C_ORANGE, 4),
    sc(fv(PP_GREEN), 6, C_GREEN, 3),
    sc(fv(PP_MAGENTA), 6, C_MAGENTA, 3.5),
    sc(fv(PP_BLUE), 6, C_BLUE, 3),
    // EP
    sc(fe(EP_RED), 7, C_RED, 3.5),
    sc(fe(EP_TEAL), 7, C_TEAL, 4),
    sc(fe(EP_ORANGE), 7, C_ORANGE, 4),
    sc(fe(EP_MAGENTA), 7, C_MAGENTA, 3.5),
  ];

  const mono = 'DejaVu Sans Mono, monospace';
  const sans = 'Liberation Sans, Arial, sans-serif';
  const txt = (x: number, y: number, text: string, extra: any = {}, rot = 0) => ({
    type: 'text', x, y, rotation: rot, silent: true, z: 50,
    style: { text, fill: '#111', font: `6.5px ${sans}`, textAlign: 'left', textVerticalAlign: 'middle', ...extra },
  });
  const legSq = (y: number, color: string, label: string) => [
    { type: 'rect', shape: { x: 305, y: y - 2, width: 4, height: 4 }, style: { fill: color }, silent: true, z: 50 },
    txt(312, y, label, { font: `bold 7px DejaVu Sans, sans-serif` }),
  ];

  const graphic: any[] = [
    txt(150, 12, 'TROMSO NORWAY   DYNASONDE 25-07-11 1042UT 15°E', { font: `8.5px ${mono}`, textAlign: 'center' }),
    txt(157, 20.5, '8pBP6It DoY= 192.445 File= TR747245.BPG', { font: `8.5px ${mono}`, textAlign: 'center' }),
    { type: 'rect', shape: { x: 272, y: 1.5, width: 61, height: 10 }, style: { fill: '#ffff00', stroke: '#ff0000', lineWidth: 1 }, silent: true, z: 49 },
    txt(302.5, 6.8, 'HPTx is OFF!', { font: `8px ${mono}`, fill: '#ff0000', textAlign: 'center' }),
    txt(12, 84, "R', R / km", { font: `bold 7.5px ${sans}`, textAlign: 'center' }, Math.PI / 2),
    txt(10, 266, 'V* m/s', { font: `bold 7px ${sans}`, textAlign: 'center' }, Math.PI / 2),
    txt(10, 300, 'YL', { font: `bold 7.5px ${sans}`, textAlign: 'center' }, Math.PI / 2),
    txt(10, 318, 'km', { font: `6.5px ${sans}`, textAlign: 'center' }, Math.PI / 2),
    txt(10, 332, 'XL', { font: `bold 7.5px ${sans}`, textAlign: 'center' }, Math.PI / 2),
    txt(43, 380, 'PP', { font: `bold 7px ${sans}` }),
    txt(12, 410, 'EP / deg', { font: `bold 7px ${sans}`, textAlign: 'center' }, Math.PI / 2),
    // lower panel frame and PP separator
    { type: 'rect', shape: { x: 39.5, y: 236.5, width: 262.5, height: 182.5 }, style: { fill: 'none', stroke: FRAME_C, lineWidth: 1 }, silent: true, z: 40 },
    { type: 'line', shape: { x1: 62, y1: 364.5, x2: 302, y2: 364.5 }, style: { stroke: '#777', lineWidth: 1 }, silent: true, z: 1 },
    // legend
    { type: 'line', shape: { x1: 303, y1: 42.7, x2: 307, y2: 42.7 }, style: { stroke: '#999', lineWidth: 1 }, silent: true, z: 50 },
    txt(308, 42.7, 'T60dB'),
    { type: 'circle', shape: { cx: 306, cy: 48.7, r: 0.8 }, style: { fill: '#000' }, silent: true, z: 50 },
    txt(309.5, 48.7, 'UnCl'),
    txt(305.5, 54.7, '+', { fill: '#e2689a', textAlign: 'center', font: `8px ${sans}` }),
    txt(308.5, 54.7, 'NeXIYZ'),
    { type: 'line', shape: { x1: 302.5, y1: 61, x2: 306.5, y2: 61 }, style: { stroke: C_RED, lineWidth: 1 }, silent: true, z: 50 },
    txt(307.5, 61, 'Θx'),
    { type: 'line', shape: { x1: 316.5, y1: 61, x2: 321.5, y2: 61 }, style: { stroke: C_BLUE, lineWidth: 1 }, silent: true, z: 50 },
    txt(322.5, 61, 'Θy'),
    ...legSq(72.3, C_RED, '✱1'),
    ...legSq(80, C_BLUE, '  2'),
    ...legSq(90.3, C_GREEN, '✱3'),
    ...legSq(97.7, C_TEAL, '✱4'),
    ...legSq(105.3, C_ORANGE, '✱5'),
    ...legSq(113.3, C_MAGENTA, '✱6'),
  ];

  return {
    animation: false,
    backgroundColor: '#ffffff',
    textStyle: { fontFamily: sans },
    grid: [
      { left: 39, top: 37, width: 263, height: 136.5, show: true, borderColor: FRAME_C, borderWidth: 1 },
      { left: 242, top: 65, width: 56, height: 103, show: true, borderColor: '#a0a0a0', borderWidth: 1, backgroundColor: '#ffffff', z: 1 },
      { left: 39, top: 173.5, width: 263, height: 48.2, show: true, borderColor: FRAME_C, borderWidth: 1 },
      { left: 39, top: 236, width: 263, height: 48 },
      { left: 39, top: 284, width: 263, height: 32 },
      { left: 39, top: 316, width: 263, height: 48 },
      { left: 39, top: 364, width: 263, height: 37 },
      { left: 39, top: 401, width: 263, height: 18 },
    ],
    xAxis,
    yAxis,
    series,
    graphic,
  };
}

export default function App() {
  const ref = useRef<HTMLDivElement>(null);
  useEffect(() => {
    if (!ref.current) return;
    const chart = echarts.init(ref.current, null, { renderer: 'svg' });
    chart.setOption(buildOption() as any);
    return () => chart.dispose();
  }, []);
  return <div ref={ref} style={{ position: 'absolute', left: 0, top: 0, width: 335, height: 451 }} />;
}
